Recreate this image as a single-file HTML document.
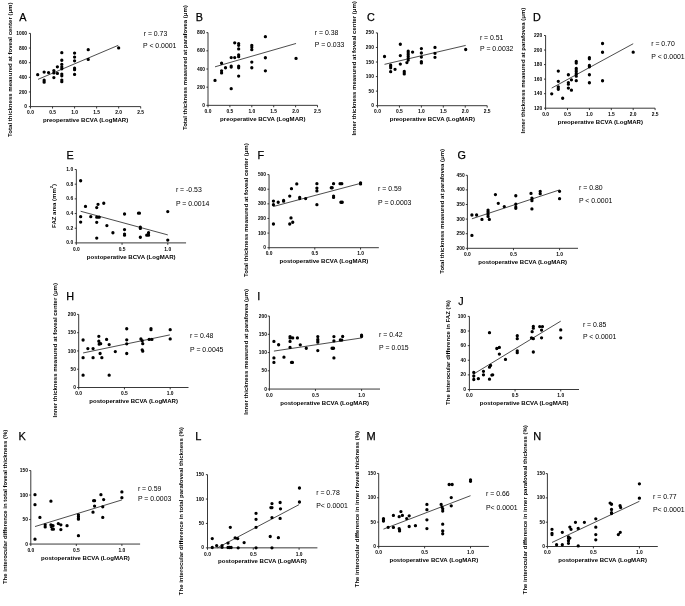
<!DOCTYPE html>
<html><head><meta charset="utf-8"><style>
html,body{margin:0;padding:0;background:#fff;}
svg{display:block;will-change:transform;}
text{font-family:"Liberation Sans",sans-serif;}
.tk{font-size:4.9px;font-weight:bold;fill:#000;}
.lb{font-size:6.0px;font-weight:bold;fill:#000;}
.yl{font-size:6.0px;font-weight:bold;fill:#000;}
.lt{fill:#000;stroke:#000;stroke-width:0.25px;}
.rp{font-size:6.9px;fill:#000;}
</style></head><body>
<svg width="685" height="606" viewBox="0 0 685 606">
<rect width="685" height="606" fill="#fff"/>
<path d="M30.50 33.40V106.60H140.70" fill="none" stroke="#222" stroke-width="0.9"/>
<path d="M28.90 106.60H30.50M28.90 91.96H30.50M28.90 77.32H30.50M28.90 62.68H30.50M28.90 48.04H30.50M28.90 33.40H30.50M30.50 106.60V108.50M52.54 106.60V108.50M74.58 106.60V108.50M96.62 106.60V108.50M118.66 106.60V108.50M140.70 106.60V108.50" fill="none" stroke="#222" stroke-width="0.9"/>
<text x="27.10" y="108.16" text-anchor="end" class="tk">0</text>
<text x="27.10" y="93.52" text-anchor="end" class="tk">200</text>
<text x="27.10" y="78.88" text-anchor="end" class="tk">400</text>
<text x="27.10" y="64.24" text-anchor="end" class="tk">600</text>
<text x="27.10" y="49.60" text-anchor="end" class="tk">800</text>
<text x="27.10" y="34.96" text-anchor="end" class="tk">1000</text>
<text x="30.50" y="114.26" text-anchor="middle" class="tk">0.0</text>
<text x="52.54" y="114.26" text-anchor="middle" class="tk">0.5</text>
<text x="74.58" y="114.26" text-anchor="middle" class="tk">1.0</text>
<text x="96.62" y="114.26" text-anchor="middle" class="tk">1.5</text>
<text x="118.66" y="114.26" text-anchor="middle" class="tk">2.0</text>
<text x="140.70" y="114.26" text-anchor="middle" class="tk">2.5</text>
<text x="42.93" y="122.20" textLength="85.35" lengthAdjust="spacingAndGlyphs" class="lb">preoperative BCVA (LogMAR)</text>
<text transform="translate(12.06,136.88) rotate(-90)" x="0" y="0" textLength="134.38" lengthAdjust="spacingAndGlyphs" class="yl">Total thickness measured at foveal center (μm)</text>
<text x="19.30" y="21.00" class="lt" style="font-size:10.8px">A</text>
<text x="143.70" y="36.30" class="rp">r = 0.73</text>
<text x="143.00" y="47.80" class="rp">P &lt; 0.0001</text>
<path d="M37.99 79.37L118.22 45.33" stroke="#111" stroke-width="0.75"/>
<path d="M36.04 74.68a1.65 1.65 0 1 0 3.3 0a1.65 1.65 0 1 0 -3.3 0M42.51 72.05a1.65 1.65 0 1 0 3.3 0a1.65 1.65 0 1 0 -3.3 0M42.51 80.25a1.65 1.65 0 1 0 3.3 0a1.65 1.65 0 1 0 -3.3 0M42.51 81.35a1.65 1.65 0 1 0 3.3 0a1.65 1.65 0 1 0 -3.3 0M42.51 82.22a1.65 1.65 0 1 0 3.3 0a1.65 1.65 0 1 0 -3.3 0M46.92 72.56a1.65 1.65 0 1 0 3.3 0a1.65 1.65 0 1 0 -3.3 0M52.21 70.59a1.65 1.65 0 1 0 3.3 0a1.65 1.65 0 1 0 -3.3 0M52.21 72.93a1.65 1.65 0 1 0 3.3 0a1.65 1.65 0 1 0 -3.3 0M52.21 77.61a1.65 1.65 0 1 0 3.3 0a1.65 1.65 0 1 0 -3.3 0M55.74 66.78a1.65 1.65 0 1 0 3.3 0a1.65 1.65 0 1 0 -3.3 0M55.74 73.44a1.65 1.65 0 1 0 3.3 0a1.65 1.65 0 1 0 -3.3 0M60.15 52.72a1.65 1.65 0 1 0 3.3 0a1.65 1.65 0 1 0 -3.3 0M60.15 60.26a1.65 1.65 0 1 0 3.3 0a1.65 1.65 0 1 0 -3.3 0M60.15 64.44a1.65 1.65 0 1 0 3.3 0a1.65 1.65 0 1 0 -3.3 0M60.15 67.07a1.65 1.65 0 1 0 3.3 0a1.65 1.65 0 1 0 -3.3 0M60.15 68.83a1.65 1.65 0 1 0 3.3 0a1.65 1.65 0 1 0 -3.3 0M60.15 74.10a1.65 1.65 0 1 0 3.3 0a1.65 1.65 0 1 0 -3.3 0M60.15 75.86a1.65 1.65 0 1 0 3.3 0a1.65 1.65 0 1 0 -3.3 0M60.15 80.10a1.65 1.65 0 1 0 3.3 0a1.65 1.65 0 1 0 -3.3 0M60.15 81.71a1.65 1.65 0 1 0 3.3 0a1.65 1.65 0 1 0 -3.3 0M72.93 53.09a1.65 1.65 0 1 0 3.3 0a1.65 1.65 0 1 0 -3.3 0M72.93 57.12a1.65 1.65 0 1 0 3.3 0a1.65 1.65 0 1 0 -3.3 0M72.93 60.78a1.65 1.65 0 1 0 3.3 0a1.65 1.65 0 1 0 -3.3 0M72.93 68.17a1.65 1.65 0 1 0 3.3 0a1.65 1.65 0 1 0 -3.3 0M72.93 69.71a1.65 1.65 0 1 0 3.3 0a1.65 1.65 0 1 0 -3.3 0M72.93 74.47a1.65 1.65 0 1 0 3.3 0a1.65 1.65 0 1 0 -3.3 0M86.59 49.72a1.65 1.65 0 1 0 3.3 0a1.65 1.65 0 1 0 -3.3 0M86.59 59.39a1.65 1.65 0 1 0 3.3 0a1.65 1.65 0 1 0 -3.3 0M117.01 47.97a1.65 1.65 0 1 0 3.3 0a1.65 1.65 0 1 0 -3.3 0" fill="#000"/>
<path d="M208.00 32.65V105.35H317.50" fill="none" stroke="#222" stroke-width="0.9"/>
<path d="M206.40 105.35H208.00M206.40 87.17H208.00M206.40 69.00H208.00M206.40 50.82H208.00M206.40 32.65H208.00M208.00 105.35V107.25M229.90 105.35V107.25M251.80 105.35V107.25M273.70 105.35V107.25M295.60 105.35V107.25M317.50 105.35V107.25" fill="none" stroke="#222" stroke-width="0.9"/>
<text x="205.10" y="106.91" text-anchor="end" class="tk">0</text>
<text x="205.10" y="88.74" text-anchor="end" class="tk">200</text>
<text x="205.10" y="70.56" text-anchor="end" class="tk">400</text>
<text x="205.10" y="52.39" text-anchor="end" class="tk">600</text>
<text x="205.10" y="34.21" text-anchor="end" class="tk">800</text>
<text x="208.00" y="113.01" text-anchor="middle" class="tk">0.0</text>
<text x="229.90" y="113.01" text-anchor="middle" class="tk">0.5</text>
<text x="251.80" y="113.01" text-anchor="middle" class="tk">1.0</text>
<text x="273.70" y="113.01" text-anchor="middle" class="tk">1.5</text>
<text x="295.60" y="113.01" text-anchor="middle" class="tk">2.0</text>
<text x="317.50" y="113.01" text-anchor="middle" class="tk">2.5</text>
<text x="220.08" y="120.95" textLength="85.35" lengthAdjust="spacingAndGlyphs" class="lb">preoperative BCVA (LogMAR)</text>
<text transform="translate(187.16,130.08) rotate(-90)" x="0" y="0" textLength="124.93" lengthAdjust="spacingAndGlyphs" class="yl">Total thickness measured at parafovea (μm)</text>
<text x="195.80" y="21.00" class="lt" style="font-size:10.8px">B</text>
<text x="314.80" y="34.90" class="rp">r = 0.38</text>
<text x="314.80" y="46.90" class="rp">P = 0.033</text>
<path d="M215.01 66.82L296.04 43.46" stroke="#111" stroke-width="0.75"/>
<path d="M213.36 80.45a1.65 1.65 0 1 0 3.3 0a1.65 1.65 0 1 0 -3.3 0M219.93 63.27a1.65 1.65 0 1 0 3.3 0a1.65 1.65 0 1 0 -3.3 0M219.93 70.82a1.65 1.65 0 1 0 3.3 0a1.65 1.65 0 1 0 -3.3 0M219.93 72.91a1.65 1.65 0 1 0 3.3 0a1.65 1.65 0 1 0 -3.3 0M223.87 67.73a1.65 1.65 0 1 0 3.3 0a1.65 1.65 0 1 0 -3.3 0M229.56 57.55a1.65 1.65 0 1 0 3.3 0a1.65 1.65 0 1 0 -3.3 0M229.56 66.27a1.65 1.65 0 1 0 3.3 0a1.65 1.65 0 1 0 -3.3 0M229.56 67.00a1.65 1.65 0 1 0 3.3 0a1.65 1.65 0 1 0 -3.3 0M229.56 88.72a1.65 1.65 0 1 0 3.3 0a1.65 1.65 0 1 0 -3.3 0M233.07 57.55a1.65 1.65 0 1 0 3.3 0a1.65 1.65 0 1 0 -3.3 0M233.07 42.83a1.65 1.65 0 1 0 3.3 0a1.65 1.65 0 1 0 -3.3 0M237.01 43.65a1.65 1.65 0 1 0 3.3 0a1.65 1.65 0 1 0 -3.3 0M237.01 45.28a1.65 1.65 0 1 0 3.3 0a1.65 1.65 0 1 0 -3.3 0M237.01 48.92a1.65 1.65 0 1 0 3.3 0a1.65 1.65 0 1 0 -3.3 0M237.01 54.91a1.65 1.65 0 1 0 3.3 0a1.65 1.65 0 1 0 -3.3 0M237.01 56.64a1.65 1.65 0 1 0 3.3 0a1.65 1.65 0 1 0 -3.3 0M237.01 66.27a1.65 1.65 0 1 0 3.3 0a1.65 1.65 0 1 0 -3.3 0M237.01 67.73a1.65 1.65 0 1 0 3.3 0a1.65 1.65 0 1 0 -3.3 0M237.01 76.09a1.65 1.65 0 1 0 3.3 0a1.65 1.65 0 1 0 -3.3 0M250.15 45.28a1.65 1.65 0 1 0 3.3 0a1.65 1.65 0 1 0 -3.3 0M250.15 47.01a1.65 1.65 0 1 0 3.3 0a1.65 1.65 0 1 0 -3.3 0M250.15 49.64a1.65 1.65 0 1 0 3.3 0a1.65 1.65 0 1 0 -3.3 0M250.15 62.09a1.65 1.65 0 1 0 3.3 0a1.65 1.65 0 1 0 -3.3 0M250.15 67.73a1.65 1.65 0 1 0 3.3 0a1.65 1.65 0 1 0 -3.3 0M263.73 36.65a1.65 1.65 0 1 0 3.3 0a1.65 1.65 0 1 0 -3.3 0M263.73 57.73a1.65 1.65 0 1 0 3.3 0a1.65 1.65 0 1 0 -3.3 0M263.73 70.82a1.65 1.65 0 1 0 3.3 0a1.65 1.65 0 1 0 -3.3 0M294.39 58.37a1.65 1.65 0 1 0 3.3 0a1.65 1.65 0 1 0 -3.3 0" fill="#000"/>
<path d="M377.50 32.90V105.70H487.20" fill="none" stroke="#222" stroke-width="0.9"/>
<path d="M375.90 105.70H377.50M375.90 91.14H377.50M375.90 76.58H377.50M375.90 62.02H377.50M375.90 47.46H377.50M375.90 32.90H377.50M377.50 105.70V107.60M399.44 105.70V107.60M421.38 105.70V107.60M443.32 105.70V107.60M465.26 105.70V107.60M487.20 105.70V107.60" fill="none" stroke="#222" stroke-width="0.9"/>
<text x="374.00" y="107.26" text-anchor="end" class="tk">0</text>
<text x="374.00" y="92.70" text-anchor="end" class="tk">50</text>
<text x="374.00" y="78.14" text-anchor="end" class="tk">100</text>
<text x="374.00" y="63.58" text-anchor="end" class="tk">150</text>
<text x="374.00" y="49.02" text-anchor="end" class="tk">200</text>
<text x="374.00" y="34.46" text-anchor="end" class="tk">250</text>
<text x="377.50" y="113.36" text-anchor="middle" class="tk">0.0</text>
<text x="399.44" y="113.36" text-anchor="middle" class="tk">0.5</text>
<text x="421.38" y="113.36" text-anchor="middle" class="tk">1.0</text>
<text x="443.32" y="113.36" text-anchor="middle" class="tk">1.5</text>
<text x="465.26" y="113.36" text-anchor="middle" class="tk">2.0</text>
<text x="487.20" y="113.36" text-anchor="middle" class="tk">2.5</text>
<text x="389.68" y="121.30" textLength="85.35" lengthAdjust="spacingAndGlyphs" class="lb">preoperative BCVA (LogMAR)</text>
<text transform="translate(356.16,135.59) rotate(-90)" x="0" y="0" textLength="134.39" lengthAdjust="spacingAndGlyphs" class="yl">Inner thickness measured at foveal center (μm)</text>
<text x="367.00" y="21.00" class="lt" style="font-size:10.8px">C</text>
<text x="479.90" y="39.60" class="rp">r = 0.51</text>
<text x="480.00" y="50.90" class="rp">P = 0.0032</text>
<path d="M384.52 64.35L465.70 45.42" stroke="#111" stroke-width="0.75"/>
<path d="M382.87 56.49a1.65 1.65 0 1 0 3.3 0a1.65 1.65 0 1 0 -3.3 0M389.01 65.22a1.65 1.65 0 1 0 3.3 0a1.65 1.65 0 1 0 -3.3 0M389.01 66.68a1.65 1.65 0 1 0 3.3 0a1.65 1.65 0 1 0 -3.3 0M389.01 67.84a1.65 1.65 0 1 0 3.3 0a1.65 1.65 0 1 0 -3.3 0M389.01 71.63a1.65 1.65 0 1 0 3.3 0a1.65 1.65 0 1 0 -3.3 0M393.40 69.30a1.65 1.65 0 1 0 3.3 0a1.65 1.65 0 1 0 -3.3 0M398.67 44.26a1.65 1.65 0 1 0 3.3 0a1.65 1.65 0 1 0 -3.3 0M398.67 55.61a1.65 1.65 0 1 0 3.3 0a1.65 1.65 0 1 0 -3.3 0M398.67 64.06a1.65 1.65 0 1 0 3.3 0a1.65 1.65 0 1 0 -3.3 0M402.62 71.34a1.65 1.65 0 1 0 3.3 0a1.65 1.65 0 1 0 -3.3 0M402.62 72.79a1.65 1.65 0 1 0 3.3 0a1.65 1.65 0 1 0 -3.3 0M402.62 73.96a1.65 1.65 0 1 0 3.3 0a1.65 1.65 0 1 0 -3.3 0M405.25 62.60a1.65 1.65 0 1 0 3.3 0a1.65 1.65 0 1 0 -3.3 0M406.57 51.25a1.65 1.65 0 1 0 3.3 0a1.65 1.65 0 1 0 -3.3 0M406.57 52.99a1.65 1.65 0 1 0 3.3 0a1.65 1.65 0 1 0 -3.3 0M406.57 54.74a1.65 1.65 0 1 0 3.3 0a1.65 1.65 0 1 0 -3.3 0M406.57 56.49a1.65 1.65 0 1 0 3.3 0a1.65 1.65 0 1 0 -3.3 0M406.57 58.23a1.65 1.65 0 1 0 3.3 0a1.65 1.65 0 1 0 -3.3 0M406.57 59.98a1.65 1.65 0 1 0 3.3 0a1.65 1.65 0 1 0 -3.3 0M410.95 52.12a1.65 1.65 0 1 0 3.3 0a1.65 1.65 0 1 0 -3.3 0M419.73 48.62a1.65 1.65 0 1 0 3.3 0a1.65 1.65 0 1 0 -3.3 0M419.73 52.99a1.65 1.65 0 1 0 3.3 0a1.65 1.65 0 1 0 -3.3 0M419.73 57.07a1.65 1.65 0 1 0 3.3 0a1.65 1.65 0 1 0 -3.3 0M419.73 61.73a1.65 1.65 0 1 0 3.3 0a1.65 1.65 0 1 0 -3.3 0M419.73 62.89a1.65 1.65 0 1 0 3.3 0a1.65 1.65 0 1 0 -3.3 0M433.33 47.46a1.65 1.65 0 1 0 3.3 0a1.65 1.65 0 1 0 -3.3 0M433.33 53.28a1.65 1.65 0 1 0 3.3 0a1.65 1.65 0 1 0 -3.3 0M433.33 57.36a1.65 1.65 0 1 0 3.3 0a1.65 1.65 0 1 0 -3.3 0M464.05 49.50a1.65 1.65 0 1 0 3.3 0a1.65 1.65 0 1 0 -3.3 0" fill="#000"/>
<path d="M545.60 35.50V108.20H655.10" fill="none" stroke="#222" stroke-width="0.9"/>
<path d="M544.00 108.20H545.60M544.00 93.66H545.60M544.00 79.12H545.60M544.00 64.58H545.60M544.00 50.04H545.60M544.00 35.50H545.60M545.60 108.20V110.10M567.50 108.20V110.10M589.40 108.20V110.10M611.30 108.20V110.10M633.20 108.20V110.10M655.10 108.20V110.10" fill="none" stroke="#222" stroke-width="0.9"/>
<text x="542.20" y="109.76" text-anchor="end" class="tk">120</text>
<text x="542.20" y="95.22" text-anchor="end" class="tk">140</text>
<text x="542.20" y="80.68" text-anchor="end" class="tk">160</text>
<text x="542.20" y="66.14" text-anchor="end" class="tk">180</text>
<text x="542.20" y="51.60" text-anchor="end" class="tk">200</text>
<text x="542.20" y="37.06" text-anchor="end" class="tk">220</text>
<text x="545.60" y="115.86" text-anchor="middle" class="tk">0.0</text>
<text x="567.50" y="115.86" text-anchor="middle" class="tk">0.5</text>
<text x="589.40" y="115.86" text-anchor="middle" class="tk">1.0</text>
<text x="611.30" y="115.86" text-anchor="middle" class="tk">1.5</text>
<text x="633.20" y="115.86" text-anchor="middle" class="tk">2.0</text>
<text x="655.10" y="115.86" text-anchor="middle" class="tk">2.5</text>
<text x="557.68" y="123.80" textLength="85.35" lengthAdjust="spacingAndGlyphs" class="lb">preoperative BCVA (LogMAR)</text>
<text transform="translate(525.16,133.42) rotate(-90)" x="0" y="0" textLength="125.72" lengthAdjust="spacingAndGlyphs" class="yl">Inner thickness measured at parafovea (μm)</text>
<text x="533.10" y="21.40" class="lt" style="font-size:10.8px">D</text>
<text x="651.20" y="45.80" class="rp">r = 0.70</text>
<text x="651.30" y="58.90" class="rp">P &lt; 0.0001</text>
<path d="M551.73 88.06L633.20 43.72" stroke="#111" stroke-width="0.75"/>
<path d="M550.08 93.81a1.65 1.65 0 1 0 3.3 0a1.65 1.65 0 1 0 -3.3 0M556.65 71.12a1.65 1.65 0 1 0 3.3 0a1.65 1.65 0 1 0 -3.3 0M556.65 81.30a1.65 1.65 0 1 0 3.3 0a1.65 1.65 0 1 0 -3.3 0M556.65 86.83a1.65 1.65 0 1 0 3.3 0a1.65 1.65 0 1 0 -3.3 0M556.65 88.06a1.65 1.65 0 1 0 3.3 0a1.65 1.65 0 1 0 -3.3 0M556.65 89.30a1.65 1.65 0 1 0 3.3 0a1.65 1.65 0 1 0 -3.3 0M561.03 98.24a1.65 1.65 0 1 0 3.3 0a1.65 1.65 0 1 0 -3.3 0M566.73 74.76a1.65 1.65 0 1 0 3.3 0a1.65 1.65 0 1 0 -3.3 0M566.73 82.75a1.65 1.65 0 1 0 3.3 0a1.65 1.65 0 1 0 -3.3 0M566.73 84.21a1.65 1.65 0 1 0 3.3 0a1.65 1.65 0 1 0 -3.3 0M566.73 88.06a1.65 1.65 0 1 0 3.3 0a1.65 1.65 0 1 0 -3.3 0M569.79 79.85a1.65 1.65 0 1 0 3.3 0a1.65 1.65 0 1 0 -3.3 0M569.79 90.17a1.65 1.65 0 1 0 3.3 0a1.65 1.65 0 1 0 -3.3 0M574.61 61.45a1.65 1.65 0 1 0 3.3 0a1.65 1.65 0 1 0 -3.3 0M574.61 62.98a1.65 1.65 0 1 0 3.3 0a1.65 1.65 0 1 0 -3.3 0M574.61 68.43a1.65 1.65 0 1 0 3.3 0a1.65 1.65 0 1 0 -3.3 0M574.61 70.03a1.65 1.65 0 1 0 3.3 0a1.65 1.65 0 1 0 -3.3 0M574.61 71.41a1.65 1.65 0 1 0 3.3 0a1.65 1.65 0 1 0 -3.3 0M574.61 73.16a1.65 1.65 0 1 0 3.3 0a1.65 1.65 0 1 0 -3.3 0M574.61 74.54a1.65 1.65 0 1 0 3.3 0a1.65 1.65 0 1 0 -3.3 0M574.61 76.14a1.65 1.65 0 1 0 3.3 0a1.65 1.65 0 1 0 -3.3 0M574.61 80.72a1.65 1.65 0 1 0 3.3 0a1.65 1.65 0 1 0 -3.3 0M587.75 57.75a1.65 1.65 0 1 0 3.3 0a1.65 1.65 0 1 0 -3.3 0M587.75 58.76a1.65 1.65 0 1 0 3.3 0a1.65 1.65 0 1 0 -3.3 0M587.75 65.31a1.65 1.65 0 1 0 3.3 0a1.65 1.65 0 1 0 -3.3 0M587.75 66.76a1.65 1.65 0 1 0 3.3 0a1.65 1.65 0 1 0 -3.3 0M587.75 74.76a1.65 1.65 0 1 0 3.3 0a1.65 1.65 0 1 0 -3.3 0M587.75 82.75a1.65 1.65 0 1 0 3.3 0a1.65 1.65 0 1 0 -3.3 0M600.89 43.50a1.65 1.65 0 1 0 3.3 0a1.65 1.65 0 1 0 -3.3 0M600.89 52.22a1.65 1.65 0 1 0 3.3 0a1.65 1.65 0 1 0 -3.3 0M600.89 80.72a1.65 1.65 0 1 0 3.3 0a1.65 1.65 0 1 0 -3.3 0M631.55 52.22a1.65 1.65 0 1 0 3.3 0a1.65 1.65 0 1 0 -3.3 0" fill="#000"/>
<path d="M76.35 169.50V242.90H186.05" fill="none" stroke="#222" stroke-width="0.9"/>
<path d="M74.75 242.90H76.35M74.75 228.22H76.35M74.75 213.54H76.35M74.75 198.86H76.35M74.75 184.18H76.35M74.75 169.50H76.35M76.35 242.90V244.80M122.06 242.90V244.80M167.77 242.90V244.80" fill="none" stroke="#222" stroke-width="0.9"/>
<text x="73.15" y="244.46" text-anchor="end" class="tk">0.0</text>
<text x="73.15" y="229.78" text-anchor="end" class="tk">0.2</text>
<text x="73.15" y="215.10" text-anchor="end" class="tk">0.4</text>
<text x="73.15" y="200.42" text-anchor="end" class="tk">0.6</text>
<text x="73.15" y="185.74" text-anchor="end" class="tk">0.8</text>
<text x="73.15" y="171.06" text-anchor="end" class="tk">1.0</text>
<text x="76.35" y="250.56" text-anchor="middle" class="tk">0.0</text>
<text x="122.06" y="250.56" text-anchor="middle" class="tk">0.5</text>
<text x="167.77" y="250.56" text-anchor="middle" class="tk">1.0</text>
<text x="86.84" y="258.50" textLength="88.72" lengthAdjust="spacingAndGlyphs" class="lb">postoperative BCVA (LogMAR)</text>
<text transform="translate(55.56,227.90) rotate(-90)" x="0" y="0" textLength="43.90" lengthAdjust="spacingAndGlyphs" class="yl">FAZ area (mm<tspan dy="-2.3" font-size="4">2</tspan><tspan dy="2.3">)</tspan></text>
<text x="66.40" y="158.90" class="lt" style="font-size:10.8px">E</text>
<text x="175.90" y="192.20" class="rp">r = -0.53</text>
<text x="175.90" y="205.90" class="rp">P = 0.0014</text>
<path d="M80.65 211.26L167.77 234.90" stroke="#111" stroke-width="0.75"/>
<path d="M79.00 180.73a1.65 1.65 0 1 0 3.3 0a1.65 1.65 0 1 0 -3.3 0M79.00 216.70a1.65 1.65 0 1 0 3.3 0a1.65 1.65 0 1 0 -3.3 0M79.00 222.05a1.65 1.65 0 1 0 3.3 0a1.65 1.65 0 1 0 -3.3 0M83.84 206.42a1.65 1.65 0 1 0 3.3 0a1.65 1.65 0 1 0 -3.3 0M89.14 216.70a1.65 1.65 0 1 0 3.3 0a1.65 1.65 0 1 0 -3.3 0M95.09 207.59a1.65 1.65 0 1 0 3.3 0a1.65 1.65 0 1 0 -3.3 0M95.09 217.21a1.65 1.65 0 1 0 3.3 0a1.65 1.65 0 1 0 -3.3 0M95.09 222.35a1.65 1.65 0 1 0 3.3 0a1.65 1.65 0 1 0 -3.3 0M95.09 238.06a1.65 1.65 0 1 0 3.3 0a1.65 1.65 0 1 0 -3.3 0M96.37 204.37a1.65 1.65 0 1 0 3.3 0a1.65 1.65 0 1 0 -3.3 0M97.55 217.21a1.65 1.65 0 1 0 3.3 0a1.65 1.65 0 1 0 -3.3 0M102.12 203.26a1.65 1.65 0 1 0 3.3 0a1.65 1.65 0 1 0 -3.3 0M105.23 225.58a1.65 1.65 0 1 0 3.3 0a1.65 1.65 0 1 0 -3.3 0M111.27 232.77a1.65 1.65 0 1 0 3.3 0a1.65 1.65 0 1 0 -3.3 0M122.88 213.98a1.65 1.65 0 1 0 3.3 0a1.65 1.65 0 1 0 -3.3 0M122.88 229.54a1.65 1.65 0 1 0 3.3 0a1.65 1.65 0 1 0 -3.3 0M122.88 234.09a1.65 1.65 0 1 0 3.3 0a1.65 1.65 0 1 0 -3.3 0M122.88 235.19a1.65 1.65 0 1 0 3.3 0a1.65 1.65 0 1 0 -3.3 0M136.86 213.17a1.65 1.65 0 1 0 3.3 0a1.65 1.65 0 1 0 -3.3 0M137.78 213.17a1.65 1.65 0 1 0 3.3 0a1.65 1.65 0 1 0 -3.3 0M138.69 227.19a1.65 1.65 0 1 0 3.3 0a1.65 1.65 0 1 0 -3.3 0M138.69 228.44a1.65 1.65 0 1 0 3.3 0a1.65 1.65 0 1 0 -3.3 0M138.69 237.25a1.65 1.65 0 1 0 3.3 0a1.65 1.65 0 1 0 -3.3 0M145.09 235.19a1.65 1.65 0 1 0 3.3 0a1.65 1.65 0 1 0 -3.3 0M146.92 235.19a1.65 1.65 0 1 0 3.3 0a1.65 1.65 0 1 0 -3.3 0M146.92 232.77a1.65 1.65 0 1 0 3.3 0a1.65 1.65 0 1 0 -3.3 0M166.12 211.56a1.65 1.65 0 1 0 3.3 0a1.65 1.65 0 1 0 -3.3 0M166.12 240.04a1.65 1.65 0 1 0 3.3 0a1.65 1.65 0 1 0 -3.3 0" fill="#000"/>
<path d="M269.05 174.60V247.70H378.85" fill="none" stroke="#222" stroke-width="0.9"/>
<path d="M267.45 247.70H269.05M267.45 233.08H269.05M267.45 218.46H269.05M267.45 203.84H269.05M267.45 189.22H269.05M267.45 174.60H269.05M269.05 247.70V249.60M314.80 247.70V249.60M360.55 247.70V249.60" fill="none" stroke="#222" stroke-width="0.9"/>
<text x="266.05" y="249.26" text-anchor="end" class="tk">0</text>
<text x="266.05" y="234.64" text-anchor="end" class="tk">100</text>
<text x="266.05" y="220.02" text-anchor="end" class="tk">200</text>
<text x="266.05" y="205.40" text-anchor="end" class="tk">300</text>
<text x="266.05" y="190.78" text-anchor="end" class="tk">400</text>
<text x="266.05" y="176.16" text-anchor="end" class="tk">500</text>
<text x="269.05" y="255.36" text-anchor="middle" class="tk">0.0</text>
<text x="314.80" y="255.36" text-anchor="middle" class="tk">0.5</text>
<text x="360.55" y="255.36" text-anchor="middle" class="tk">1.0</text>
<text x="279.59" y="263.30" textLength="88.72" lengthAdjust="spacingAndGlyphs" class="lb">postoperative BCVA (LogMAR)</text>
<text transform="translate(248.46,276.90) rotate(-90)" x="0" y="0" textLength="133.60" lengthAdjust="spacingAndGlyphs" class="yl">Total thickness measured at foveal center (μm)</text>
<text x="257.40" y="158.90" class="lt" style="font-size:10.8px">F</text>
<text x="378.00" y="190.70" class="rp">r = 0.59</text>
<text x="378.00" y="204.90" class="rp">P = 0.0003</text>
<path d="M273.44 206.47L360.55 183.37" stroke="#111" stroke-width="0.75"/>
<path d="M271.79 201.06a1.65 1.65 0 1 0 3.3 0a1.65 1.65 0 1 0 -3.3 0M271.79 204.72a1.65 1.65 0 1 0 3.3 0a1.65 1.65 0 1 0 -3.3 0M271.79 224.02a1.65 1.65 0 1 0 3.3 0a1.65 1.65 0 1 0 -3.3 0M276.55 202.23a1.65 1.65 0 1 0 3.3 0a1.65 1.65 0 1 0 -3.3 0M281.95 200.48a1.65 1.65 0 1 0 3.3 0a1.65 1.65 0 1 0 -3.3 0M281.95 201.21a1.65 1.65 0 1 0 3.3 0a1.65 1.65 0 1 0 -3.3 0M288.08 196.09a1.65 1.65 0 1 0 3.3 0a1.65 1.65 0 1 0 -3.3 0M288.08 224.02a1.65 1.65 0 1 0 3.3 0a1.65 1.65 0 1 0 -3.3 0M289.36 217.88a1.65 1.65 0 1 0 3.3 0a1.65 1.65 0 1 0 -3.3 0M289.82 188.64a1.65 1.65 0 1 0 3.3 0a1.65 1.65 0 1 0 -3.3 0M291.10 222.26a1.65 1.65 0 1 0 3.3 0a1.65 1.65 0 1 0 -3.3 0M295.12 183.96a1.65 1.65 0 1 0 3.3 0a1.65 1.65 0 1 0 -3.3 0M298.05 197.41a1.65 1.65 0 1 0 3.3 0a1.65 1.65 0 1 0 -3.3 0M298.05 198.58a1.65 1.65 0 1 0 3.3 0a1.65 1.65 0 1 0 -3.3 0M304.00 198.58a1.65 1.65 0 1 0 3.3 0a1.65 1.65 0 1 0 -3.3 0M315.25 183.66a1.65 1.65 0 1 0 3.3 0a1.65 1.65 0 1 0 -3.3 0M315.25 188.05a1.65 1.65 0 1 0 3.3 0a1.65 1.65 0 1 0 -3.3 0M315.25 190.97a1.65 1.65 0 1 0 3.3 0a1.65 1.65 0 1 0 -3.3 0M315.25 204.72a1.65 1.65 0 1 0 3.3 0a1.65 1.65 0 1 0 -3.3 0M329.62 187.76a1.65 1.65 0 1 0 3.3 0a1.65 1.65 0 1 0 -3.3 0M330.54 187.76a1.65 1.65 0 1 0 3.3 0a1.65 1.65 0 1 0 -3.3 0M331.91 183.66a1.65 1.65 0 1 0 3.3 0a1.65 1.65 0 1 0 -3.3 0M331.91 196.09a1.65 1.65 0 1 0 3.3 0a1.65 1.65 0 1 0 -3.3 0M331.91 197.41a1.65 1.65 0 1 0 3.3 0a1.65 1.65 0 1 0 -3.3 0M338.40 183.66a1.65 1.65 0 1 0 3.3 0a1.65 1.65 0 1 0 -3.3 0M340.14 183.66a1.65 1.65 0 1 0 3.3 0a1.65 1.65 0 1 0 -3.3 0M339.23 202.23a1.65 1.65 0 1 0 3.3 0a1.65 1.65 0 1 0 -3.3 0M340.60 202.23a1.65 1.65 0 1 0 3.3 0a1.65 1.65 0 1 0 -3.3 0M358.90 182.79a1.65 1.65 0 1 0 3.3 0a1.65 1.65 0 1 0 -3.3 0M358.90 183.96a1.65 1.65 0 1 0 3.3 0a1.65 1.65 0 1 0 -3.3 0" fill="#000"/>
<path d="M467.40 175.30V248.30H578.00" fill="none" stroke="#222" stroke-width="0.9"/>
<path d="M465.80 248.30H467.40M465.80 233.70H467.40M465.80 219.10H467.40M465.80 204.50H467.40M465.80 189.90H467.40M465.80 175.30H467.40M467.40 248.30V250.20M513.48 248.30V250.20M559.57 248.30V250.20" fill="none" stroke="#222" stroke-width="0.9"/>
<text x="464.70" y="249.86" text-anchor="end" class="tk">200</text>
<text x="464.70" y="235.26" text-anchor="end" class="tk">250</text>
<text x="464.70" y="220.66" text-anchor="end" class="tk">300</text>
<text x="464.70" y="206.06" text-anchor="end" class="tk">350</text>
<text x="464.70" y="191.46" text-anchor="end" class="tk">400</text>
<text x="464.70" y="176.86" text-anchor="end" class="tk">450</text>
<text x="467.40" y="255.96" text-anchor="middle" class="tk">0.0</text>
<text x="513.48" y="255.96" text-anchor="middle" class="tk">0.5</text>
<text x="559.57" y="255.96" text-anchor="middle" class="tk">1.0</text>
<text x="478.34" y="263.90" textLength="88.72" lengthAdjust="spacingAndGlyphs" class="lb">postoperative BCVA (LogMAR)</text>
<text transform="translate(443.76,273.83) rotate(-90)" x="0" y="0" textLength="124.93" lengthAdjust="spacingAndGlyphs" class="yl">Total thickness measured at parafovea (μm)</text>
<text x="457.60" y="158.90" class="lt" style="font-size:10.8px">G</text>
<text x="579.10" y="190.00" class="rp">r = 0.80</text>
<text x="578.90" y="202.60" class="rp">P &lt; 0.0001</text>
<path d="M471.92 218.81L559.57 189.90" stroke="#111" stroke-width="0.75"/>
<path d="M470.27 215.01a1.65 1.65 0 1 0 3.3 0a1.65 1.65 0 1 0 -3.3 0M470.27 235.45a1.65 1.65 0 1 0 3.3 0a1.65 1.65 0 1 0 -3.3 0M474.97 215.01a1.65 1.65 0 1 0 3.3 0a1.65 1.65 0 1 0 -3.3 0M480.31 219.39a1.65 1.65 0 1 0 3.3 0a1.65 1.65 0 1 0 -3.3 0M486.40 210.05a1.65 1.65 0 1 0 3.3 0a1.65 1.65 0 1 0 -3.3 0M486.40 211.51a1.65 1.65 0 1 0 3.3 0a1.65 1.65 0 1 0 -3.3 0M486.40 212.97a1.65 1.65 0 1 0 3.3 0a1.65 1.65 0 1 0 -3.3 0M486.40 214.72a1.65 1.65 0 1 0 3.3 0a1.65 1.65 0 1 0 -3.3 0M486.40 216.47a1.65 1.65 0 1 0 3.3 0a1.65 1.65 0 1 0 -3.3 0M487.69 219.39a1.65 1.65 0 1 0 3.3 0a1.65 1.65 0 1 0 -3.3 0M493.77 194.57a1.65 1.65 0 1 0 3.3 0a1.65 1.65 0 1 0 -3.3 0M496.63 203.33a1.65 1.65 0 1 0 3.3 0a1.65 1.65 0 1 0 -3.3 0M502.62 206.54a1.65 1.65 0 1 0 3.3 0a1.65 1.65 0 1 0 -3.3 0M514.14 195.74a1.65 1.65 0 1 0 3.3 0a1.65 1.65 0 1 0 -3.3 0M514.14 204.21a1.65 1.65 0 1 0 3.3 0a1.65 1.65 0 1 0 -3.3 0M514.14 207.13a1.65 1.65 0 1 0 3.3 0a1.65 1.65 0 1 0 -3.3 0M514.14 208.30a1.65 1.65 0 1 0 3.3 0a1.65 1.65 0 1 0 -3.3 0M529.35 193.40a1.65 1.65 0 1 0 3.3 0a1.65 1.65 0 1 0 -3.3 0M530.27 198.08a1.65 1.65 0 1 0 3.3 0a1.65 1.65 0 1 0 -3.3 0M530.27 199.54a1.65 1.65 0 1 0 3.3 0a1.65 1.65 0 1 0 -3.3 0M530.27 200.70a1.65 1.65 0 1 0 3.3 0a1.65 1.65 0 1 0 -3.3 0M530.27 208.88a1.65 1.65 0 1 0 3.3 0a1.65 1.65 0 1 0 -3.3 0M538.56 191.36a1.65 1.65 0 1 0 3.3 0a1.65 1.65 0 1 0 -3.3 0M538.56 193.70a1.65 1.65 0 1 0 3.3 0a1.65 1.65 0 1 0 -3.3 0M557.92 191.36a1.65 1.65 0 1 0 3.3 0a1.65 1.65 0 1 0 -3.3 0M557.92 198.66a1.65 1.65 0 1 0 3.3 0a1.65 1.65 0 1 0 -3.3 0" fill="#000"/>
<path d="M78.70 314.40V387.50H188.50" fill="none" stroke="#222" stroke-width="0.9"/>
<path d="M77.10 387.50H78.70M77.10 369.23H78.70M77.10 350.95H78.70M77.10 332.68H78.70M77.10 314.40H78.70M78.70 387.50V389.40M124.45 387.50V389.40M170.20 387.50V389.40" fill="none" stroke="#222" stroke-width="0.9"/>
<text x="76.00" y="389.06" text-anchor="end" class="tk">0</text>
<text x="76.00" y="370.79" text-anchor="end" class="tk">50</text>
<text x="76.00" y="352.51" text-anchor="end" class="tk">100</text>
<text x="76.00" y="334.24" text-anchor="end" class="tk">150</text>
<text x="76.00" y="315.96" text-anchor="end" class="tk">200</text>
<text x="78.70" y="395.16" text-anchor="middle" class="tk">0.0</text>
<text x="124.45" y="395.16" text-anchor="middle" class="tk">0.5</text>
<text x="170.20" y="395.16" text-anchor="middle" class="tk">1.0</text>
<text x="89.24" y="403.10" textLength="88.72" lengthAdjust="spacingAndGlyphs" class="lb">postoperative BCVA (LogMAR)</text>
<text transform="translate(56.66,417.49) rotate(-90)" x="0" y="0" textLength="134.39" lengthAdjust="spacingAndGlyphs" class="yl">Inner thickness measured at foveal center (μm)</text>
<text x="66.20" y="299.70" class="lt" style="font-size:10.8px">H</text>
<text x="189.90" y="338.00" class="rp">r = 0.48</text>
<text x="190.00" y="351.60" class="rp">P = 0.0045</text>
<path d="M83.09 352.96L169.83 334.90" stroke="#111" stroke-width="0.75"/>
<path d="M81.44 339.99a1.65 1.65 0 1 0 3.3 0a1.65 1.65 0 1 0 -3.3 0M81.44 357.71a1.65 1.65 0 1 0 3.3 0a1.65 1.65 0 1 0 -3.3 0M81.44 375.22a1.65 1.65 0 1 0 3.3 0a1.65 1.65 0 1 0 -3.3 0M86.20 348.57a1.65 1.65 0 1 0 3.3 0a1.65 1.65 0 1 0 -3.3 0M91.42 348.57a1.65 1.65 0 1 0 3.3 0a1.65 1.65 0 1 0 -3.3 0M91.42 357.71a1.65 1.65 0 1 0 3.3 0a1.65 1.65 0 1 0 -3.3 0M97.18 336.33a1.65 1.65 0 1 0 3.3 0a1.65 1.65 0 1 0 -3.3 0M97.18 341.23a1.65 1.65 0 1 0 3.3 0a1.65 1.65 0 1 0 -3.3 0M97.55 344.19a1.65 1.65 0 1 0 3.3 0a1.65 1.65 0 1 0 -3.3 0M99.01 343.64a1.65 1.65 0 1 0 3.3 0a1.65 1.65 0 1 0 -3.3 0M98.46 353.51a1.65 1.65 0 1 0 3.3 0a1.65 1.65 0 1 0 -3.3 0M100.20 357.71a1.65 1.65 0 1 0 3.3 0a1.65 1.65 0 1 0 -3.3 0M104.96 339.47a1.65 1.65 0 1 0 3.3 0a1.65 1.65 0 1 0 -3.3 0M107.52 344.55a1.65 1.65 0 1 0 3.3 0a1.65 1.65 0 1 0 -3.3 0M107.52 375.22a1.65 1.65 0 1 0 3.3 0a1.65 1.65 0 1 0 -3.3 0M113.65 351.57a1.65 1.65 0 1 0 3.3 0a1.65 1.65 0 1 0 -3.3 0M125.09 328.76a1.65 1.65 0 1 0 3.3 0a1.65 1.65 0 1 0 -3.3 0M125.09 339.80a1.65 1.65 0 1 0 3.3 0a1.65 1.65 0 1 0 -3.3 0M125.09 343.86a1.65 1.65 0 1 0 3.3 0a1.65 1.65 0 1 0 -3.3 0M125.09 353.51a1.65 1.65 0 1 0 3.3 0a1.65 1.65 0 1 0 -3.3 0M139.27 338.93a1.65 1.65 0 1 0 3.3 0a1.65 1.65 0 1 0 -3.3 0M140.55 340.72a1.65 1.65 0 1 0 3.3 0a1.65 1.65 0 1 0 -3.3 0M141.10 343.64a1.65 1.65 0 1 0 3.3 0a1.65 1.65 0 1 0 -3.3 0M140.55 349.85a1.65 1.65 0 1 0 3.3 0a1.65 1.65 0 1 0 -3.3 0M141.10 351.21a1.65 1.65 0 1 0 3.3 0a1.65 1.65 0 1 0 -3.3 0M147.50 339.47a1.65 1.65 0 1 0 3.3 0a1.65 1.65 0 1 0 -3.3 0M149.34 328.76a1.65 1.65 0 1 0 3.3 0a1.65 1.65 0 1 0 -3.3 0M149.34 329.64a1.65 1.65 0 1 0 3.3 0a1.65 1.65 0 1 0 -3.3 0M150.25 339.47a1.65 1.65 0 1 0 3.3 0a1.65 1.65 0 1 0 -3.3 0M168.55 329.64a1.65 1.65 0 1 0 3.3 0a1.65 1.65 0 1 0 -3.3 0M168.55 338.93a1.65 1.65 0 1 0 3.3 0a1.65 1.65 0 1 0 -3.3 0" fill="#000"/>
<path d="M269.40 316.05V389.05H380.00" fill="none" stroke="#222" stroke-width="0.9"/>
<path d="M267.80 389.05H269.40M267.80 370.80H269.40M267.80 352.55H269.40M267.80 334.30H269.40M267.80 316.05H269.40M269.40 389.05V390.95M315.48 389.05V390.95M361.57 389.05V390.95" fill="none" stroke="#222" stroke-width="0.9"/>
<text x="267.00" y="390.61" text-anchor="end" class="tk">0</text>
<text x="267.00" y="372.36" text-anchor="end" class="tk">50</text>
<text x="267.00" y="354.11" text-anchor="end" class="tk">100</text>
<text x="267.00" y="335.86" text-anchor="end" class="tk">150</text>
<text x="267.00" y="317.61" text-anchor="end" class="tk">200</text>
<text x="269.40" y="396.71" text-anchor="middle" class="tk">0.0</text>
<text x="315.48" y="396.71" text-anchor="middle" class="tk">0.5</text>
<text x="361.57" y="396.71" text-anchor="middle" class="tk">1.0</text>
<text x="280.34" y="404.65" textLength="88.72" lengthAdjust="spacingAndGlyphs" class="lb">postoperative BCVA (LogMAR)</text>
<text transform="translate(248.06,414.72) rotate(-90)" x="0" y="0" textLength="125.72" lengthAdjust="spacingAndGlyphs" class="yl">Inner thickness measured at parafovea (μm)</text>
<text x="257.30" y="299.90" class="lt" style="font-size:10.8px">I</text>
<text x="379.10" y="336.80" class="rp">r = 0.42</text>
<text x="379.10" y="349.50" class="rp">P = 0.015</text>
<path d="M273.92 351.09L361.57 337.95" stroke="#111" stroke-width="0.75"/>
<path d="M272.27 341.42a1.65 1.65 0 1 0 3.3 0a1.65 1.65 0 1 0 -3.3 0M272.27 357.88a1.65 1.65 0 1 0 3.3 0a1.65 1.65 0 1 0 -3.3 0M272.27 362.44a1.65 1.65 0 1 0 3.3 0a1.65 1.65 0 1 0 -3.3 0M276.97 344.78a1.65 1.65 0 1 0 3.3 0a1.65 1.65 0 1 0 -3.3 0M282.31 357.19a1.65 1.65 0 1 0 3.3 0a1.65 1.65 0 1 0 -3.3 0M288.40 336.53a1.65 1.65 0 1 0 3.3 0a1.65 1.65 0 1 0 -3.3 0M288.40 337.95a1.65 1.65 0 1 0 3.3 0a1.65 1.65 0 1 0 -3.3 0M288.40 341.42a1.65 1.65 0 1 0 3.3 0a1.65 1.65 0 1 0 -3.3 0M288.40 347.40a1.65 1.65 0 1 0 3.3 0a1.65 1.65 0 1 0 -3.3 0M289.87 362.44a1.65 1.65 0 1 0 3.3 0a1.65 1.65 0 1 0 -3.3 0M290.79 362.44a1.65 1.65 0 1 0 3.3 0a1.65 1.65 0 1 0 -3.3 0M291.07 337.95a1.65 1.65 0 1 0 3.3 0a1.65 1.65 0 1 0 -3.3 0M295.77 337.95a1.65 1.65 0 1 0 3.3 0a1.65 1.65 0 1 0 -3.3 0M298.63 344.78a1.65 1.65 0 1 0 3.3 0a1.65 1.65 0 1 0 -3.3 0M304.62 348.24a1.65 1.65 0 1 0 3.3 0a1.65 1.65 0 1 0 -3.3 0M316.14 336.53a1.65 1.65 0 1 0 3.3 0a1.65 1.65 0 1 0 -3.3 0M316.14 339.52a1.65 1.65 0 1 0 3.3 0a1.65 1.65 0 1 0 -3.3 0M316.14 340.91a1.65 1.65 0 1 0 3.3 0a1.65 1.65 0 1 0 -3.3 0M316.14 342.15a1.65 1.65 0 1 0 3.3 0a1.65 1.65 0 1 0 -3.3 0M316.14 350.54a1.65 1.65 0 1 0 3.3 0a1.65 1.65 0 1 0 -3.3 0M330.42 348.24a1.65 1.65 0 1 0 3.3 0a1.65 1.65 0 1 0 -3.3 0M331.90 348.24a1.65 1.65 0 1 0 3.3 0a1.65 1.65 0 1 0 -3.3 0M332.27 336.53a1.65 1.65 0 1 0 3.3 0a1.65 1.65 0 1 0 -3.3 0M332.27 340.91a1.65 1.65 0 1 0 3.3 0a1.65 1.65 0 1 0 -3.3 0M332.27 357.88a1.65 1.65 0 1 0 3.3 0a1.65 1.65 0 1 0 -3.3 0M338.72 340.03a1.65 1.65 0 1 0 3.3 0a1.65 1.65 0 1 0 -3.3 0M340.10 340.03a1.65 1.65 0 1 0 3.3 0a1.65 1.65 0 1 0 -3.3 0M341.02 336.53a1.65 1.65 0 1 0 3.3 0a1.65 1.65 0 1 0 -3.3 0M359.92 335.14a1.65 1.65 0 1 0 3.3 0a1.65 1.65 0 1 0 -3.3 0M359.92 336.53a1.65 1.65 0 1 0 3.3 0a1.65 1.65 0 1 0 -3.3 0" fill="#000"/>
<path d="M469.40 316.40V389.50H579.00" fill="none" stroke="#222" stroke-width="0.9"/>
<path d="M467.80 389.50H469.40M467.80 374.88H469.40M467.80 360.26H469.40M467.80 345.64H469.40M467.80 331.02H469.40M467.80 316.40H469.40M469.40 389.50V391.40M515.07 389.50V391.40M560.73 389.50V391.40" fill="none" stroke="#222" stroke-width="0.9"/>
<text x="466.00" y="391.06" text-anchor="end" class="tk">0</text>
<text x="466.00" y="376.44" text-anchor="end" class="tk">20</text>
<text x="466.00" y="361.82" text-anchor="end" class="tk">40</text>
<text x="466.00" y="347.20" text-anchor="end" class="tk">60</text>
<text x="466.00" y="332.58" text-anchor="end" class="tk">80</text>
<text x="466.00" y="317.96" text-anchor="end" class="tk">100</text>
<text x="469.40" y="397.16" text-anchor="middle" class="tk">0.0</text>
<text x="515.07" y="397.16" text-anchor="middle" class="tk">0.5</text>
<text x="560.73" y="397.16" text-anchor="middle" class="tk">1.0</text>
<text x="479.84" y="405.10" textLength="88.72" lengthAdjust="spacingAndGlyphs" class="lb">postoperative BCVA (LogMAR)</text>
<text transform="translate(449.96,404.88) rotate(-90)" x="0" y="0" textLength="104.68" lengthAdjust="spacingAndGlyphs" class="yl">The interocular difference in FAZ (%)</text>
<text x="458.30" y="304.60" class="lt" style="font-size:10.8px">J</text>
<text x="582.90" y="326.90" class="rp">r = 0.85</text>
<text x="582.90" y="339.20" class="rp">P &lt; 0.0001</text>
<path d="M473.78 373.93L560.73 321.15" stroke="#111" stroke-width="0.75"/>
<path d="M472.13 372.47a1.65 1.65 0 1 0 3.3 0a1.65 1.65 0 1 0 -3.3 0M472.13 375.98a1.65 1.65 0 1 0 3.3 0a1.65 1.65 0 1 0 -3.3 0M472.13 379.49a1.65 1.65 0 1 0 3.3 0a1.65 1.65 0 1 0 -3.3 0M476.70 378.61a1.65 1.65 0 1 0 3.3 0a1.65 1.65 0 1 0 -3.3 0M481.82 371.30a1.65 1.65 0 1 0 3.3 0a1.65 1.65 0 1 0 -3.3 0M481.82 374.81a1.65 1.65 0 1 0 3.3 0a1.65 1.65 0 1 0 -3.3 0M487.84 332.70a1.65 1.65 0 1 0 3.3 0a1.65 1.65 0 1 0 -3.3 0M487.84 367.20a1.65 1.65 0 1 0 3.3 0a1.65 1.65 0 1 0 -3.3 0M487.84 379.19a1.65 1.65 0 1 0 3.3 0a1.65 1.65 0 1 0 -3.3 0M488.94 365.45a1.65 1.65 0 1 0 3.3 0a1.65 1.65 0 1 0 -3.3 0M490.22 375.10a1.65 1.65 0 1 0 3.3 0a1.65 1.65 0 1 0 -3.3 0M491.04 374.81a1.65 1.65 0 1 0 3.3 0a1.65 1.65 0 1 0 -3.3 0M495.15 348.49a1.65 1.65 0 1 0 3.3 0a1.65 1.65 0 1 0 -3.3 0M497.71 347.39a1.65 1.65 0 1 0 3.3 0a1.65 1.65 0 1 0 -3.3 0M497.71 354.12a1.65 1.65 0 1 0 3.3 0a1.65 1.65 0 1 0 -3.3 0M503.83 359.38a1.65 1.65 0 1 0 3.3 0a1.65 1.65 0 1 0 -3.3 0M515.61 335.70a1.65 1.65 0 1 0 3.3 0a1.65 1.65 0 1 0 -3.3 0M515.61 338.70a1.65 1.65 0 1 0 3.3 0a1.65 1.65 0 1 0 -3.3 0M515.61 350.90a1.65 1.65 0 1 0 3.3 0a1.65 1.65 0 1 0 -3.3 0M515.61 352.66a1.65 1.65 0 1 0 3.3 0a1.65 1.65 0 1 0 -3.3 0M530.50 331.68a1.65 1.65 0 1 0 3.3 0a1.65 1.65 0 1 0 -3.3 0M529.86 337.82a1.65 1.65 0 1 0 3.3 0a1.65 1.65 0 1 0 -3.3 0M531.68 326.41a1.65 1.65 0 1 0 3.3 0a1.65 1.65 0 1 0 -3.3 0M531.68 328.17a1.65 1.65 0 1 0 3.3 0a1.65 1.65 0 1 0 -3.3 0M531.68 338.70a1.65 1.65 0 1 0 3.3 0a1.65 1.65 0 1 0 -3.3 0M531.68 352.00a1.65 1.65 0 1 0 3.3 0a1.65 1.65 0 1 0 -3.3 0M538.08 326.56a1.65 1.65 0 1 0 3.3 0a1.65 1.65 0 1 0 -3.3 0M540.82 326.56a1.65 1.65 0 1 0 3.3 0a1.65 1.65 0 1 0 -3.3 0M539.90 330.07a1.65 1.65 0 1 0 3.3 0a1.65 1.65 0 1 0 -3.3 0M539.90 337.82a1.65 1.65 0 1 0 3.3 0a1.65 1.65 0 1 0 -3.3 0M559.08 329.92a1.65 1.65 0 1 0 3.3 0a1.65 1.65 0 1 0 -3.3 0M559.08 337.82a1.65 1.65 0 1 0 3.3 0a1.65 1.65 0 1 0 -3.3 0" fill="#000"/>
<path d="M30.80 470.55V544.05H140.10" fill="none" stroke="#222" stroke-width="0.9"/>
<path d="M29.20 544.05H30.80M29.20 519.55H30.80M29.20 495.05H30.80M29.20 470.55H30.80M30.80 544.05V545.95M76.34 544.05V545.95M121.88 544.05V545.95" fill="none" stroke="#222" stroke-width="0.9"/>
<text x="28.00" y="545.61" text-anchor="end" class="tk">0</text>
<text x="28.00" y="521.11" text-anchor="end" class="tk">50</text>
<text x="28.00" y="496.61" text-anchor="end" class="tk">100</text>
<text x="28.00" y="472.11" text-anchor="end" class="tk">150</text>
<text x="30.80" y="551.71" text-anchor="middle" class="tk">0.0</text>
<text x="76.34" y="551.71" text-anchor="middle" class="tk">0.5</text>
<text x="121.88" y="551.71" text-anchor="middle" class="tk">1.0</text>
<text x="41.09" y="559.65" textLength="88.72" lengthAdjust="spacingAndGlyphs" class="lb">postoperative BCVA (LogMAR)</text>
<text transform="translate(7.06,584.07) rotate(-90)" x="0" y="0" textLength="154.37" lengthAdjust="spacingAndGlyphs" class="yl">The interocular difference in total foveal thickness (%)</text>
<text x="18.50" y="439.80" class="lt" style="font-size:11.0px">K</text>
<text x="137.90" y="490.70" class="rp">r = 0.59</text>
<text x="137.90" y="500.90" class="rp">P = 0.0003</text>
<path d="M34.99 526.56L121.88 499.95" stroke="#111" stroke-width="0.75"/>
<path d="M33.34 494.71a1.65 1.65 0 1 0 3.3 0a1.65 1.65 0 1 0 -3.3 0M33.34 504.65a1.65 1.65 0 1 0 3.3 0a1.65 1.65 0 1 0 -3.3 0M33.34 539.15a1.65 1.65 0 1 0 3.3 0a1.65 1.65 0 1 0 -3.3 0M38.26 517.44a1.65 1.65 0 1 0 3.3 0a1.65 1.65 0 1 0 -3.3 0M43.54 524.79a1.65 1.65 0 1 0 3.3 0a1.65 1.65 0 1 0 -3.3 0M43.54 526.90a1.65 1.65 0 1 0 3.3 0a1.65 1.65 0 1 0 -3.3 0M49.28 501.17a1.65 1.65 0 1 0 3.3 0a1.65 1.65 0 1 0 -3.3 0M49.28 524.79a1.65 1.65 0 1 0 3.3 0a1.65 1.65 0 1 0 -3.3 0M49.64 526.56a1.65 1.65 0 1 0 3.3 0a1.65 1.65 0 1 0 -3.3 0M50.55 529.15a1.65 1.65 0 1 0 3.3 0a1.65 1.65 0 1 0 -3.3 0M51.37 525.67a1.65 1.65 0 1 0 3.3 0a1.65 1.65 0 1 0 -3.3 0M51.74 529.15a1.65 1.65 0 1 0 3.3 0a1.65 1.65 0 1 0 -3.3 0M56.66 523.57a1.65 1.65 0 1 0 3.3 0a1.65 1.65 0 1 0 -3.3 0M59.21 524.79a1.65 1.65 0 1 0 3.3 0a1.65 1.65 0 1 0 -3.3 0M59.21 529.55a1.65 1.65 0 1 0 3.3 0a1.65 1.65 0 1 0 -3.3 0M65.40 525.67a1.65 1.65 0 1 0 3.3 0a1.65 1.65 0 1 0 -3.3 0M76.79 514.85a1.65 1.65 0 1 0 3.3 0a1.65 1.65 0 1 0 -3.3 0M76.79 516.41a1.65 1.65 0 1 0 3.3 0a1.65 1.65 0 1 0 -3.3 0M76.79 518.13a1.65 1.65 0 1 0 3.3 0a1.65 1.65 0 1 0 -3.3 0M76.79 519.21a1.65 1.65 0 1 0 3.3 0a1.65 1.65 0 1 0 -3.3 0M76.79 535.67a1.65 1.65 0 1 0 3.3 0a1.65 1.65 0 1 0 -3.3 0M91.36 512.20a1.65 1.65 0 1 0 3.3 0a1.65 1.65 0 1 0 -3.3 0M92.00 500.64a1.65 1.65 0 1 0 3.3 0a1.65 1.65 0 1 0 -3.3 0M92.91 500.64a1.65 1.65 0 1 0 3.3 0a1.65 1.65 0 1 0 -3.3 0M92.91 506.07a1.65 1.65 0 1 0 3.3 0a1.65 1.65 0 1 0 -3.3 0M99.28 494.71a1.65 1.65 0 1 0 3.3 0a1.65 1.65 0 1 0 -3.3 0M102.02 499.61a1.65 1.65 0 1 0 3.3 0a1.65 1.65 0 1 0 -3.3 0M101.11 506.81a1.65 1.65 0 1 0 3.3 0a1.65 1.65 0 1 0 -3.3 0M101.11 517.44a1.65 1.65 0 1 0 3.3 0a1.65 1.65 0 1 0 -3.3 0M120.23 491.91a1.65 1.65 0 1 0 3.3 0a1.65 1.65 0 1 0 -3.3 0M120.23 497.70a1.65 1.65 0 1 0 3.3 0a1.65 1.65 0 1 0 -3.3 0" fill="#000"/>
<path d="M207.50 474.65V547.85H317.40" fill="none" stroke="#222" stroke-width="0.9"/>
<path d="M205.90 547.85H207.50M205.90 523.45H207.50M205.90 499.05H207.50M205.90 474.65H207.50M207.50 547.85V549.75M253.29 547.85V549.75M299.08 547.85V549.75" fill="none" stroke="#222" stroke-width="0.9"/>
<text x="204.10" y="549.41" text-anchor="end" class="tk">0</text>
<text x="204.10" y="525.01" text-anchor="end" class="tk">50</text>
<text x="204.10" y="500.61" text-anchor="end" class="tk">100</text>
<text x="204.10" y="476.21" text-anchor="end" class="tk">150</text>
<text x="207.50" y="555.51" text-anchor="middle" class="tk">0.0</text>
<text x="253.29" y="555.51" text-anchor="middle" class="tk">0.5</text>
<text x="299.08" y="555.51" text-anchor="middle" class="tk">1.0</text>
<text x="218.09" y="563.45" textLength="88.72" lengthAdjust="spacingAndGlyphs" class="lb">postoperative BCVA (LogMAR)</text>
<text transform="translate(183.26,595.22) rotate(-90)" x="0" y="0" textLength="168.02" lengthAdjust="spacingAndGlyphs" class="yl">The interocular difference in total parafoveal thickness (%)</text>
<text x="195.20" y="439.80" class="lt" style="font-size:11.0px">L</text>
<text x="316.20" y="495.10" class="rp">r = 0.78</text>
<text x="316.20" y="507.60" class="rp">P&lt; 0.0001</text>
<path d="M217.30 547.85L299.08 504.61" stroke="#111" stroke-width="0.75"/>
<path d="M210.61 538.58a1.65 1.65 0 1 0 3.3 0a1.65 1.65 0 1 0 -3.3 0M210.61 547.51a1.65 1.65 0 1 0 3.3 0a1.65 1.65 0 1 0 -3.3 0M215.01 545.56a1.65 1.65 0 1 0 3.3 0a1.65 1.65 0 1 0 -3.3 0M220.41 545.56a1.65 1.65 0 1 0 3.3 0a1.65 1.65 0 1 0 -3.3 0M220.41 547.36a1.65 1.65 0 1 0 3.3 0a1.65 1.65 0 1 0 -3.3 0M226.36 543.12a1.65 1.65 0 1 0 3.3 0a1.65 1.65 0 1 0 -3.3 0M226.36 547.51a1.65 1.65 0 1 0 3.3 0a1.65 1.65 0 1 0 -3.3 0M227.74 547.51a1.65 1.65 0 1 0 3.3 0a1.65 1.65 0 1 0 -3.3 0M228.65 527.35a1.65 1.65 0 1 0 3.3 0a1.65 1.65 0 1 0 -3.3 0M229.48 547.51a1.65 1.65 0 1 0 3.3 0a1.65 1.65 0 1 0 -3.3 0M233.51 537.85a1.65 1.65 0 1 0 3.3 0a1.65 1.65 0 1 0 -3.3 0M236.07 538.58a1.65 1.65 0 1 0 3.3 0a1.65 1.65 0 1 0 -3.3 0M236.53 547.85a1.65 1.65 0 1 0 3.3 0a1.65 1.65 0 1 0 -3.3 0M242.48 542.58a1.65 1.65 0 1 0 3.3 0a1.65 1.65 0 1 0 -3.3 0M254.39 513.35a1.65 1.65 0 1 0 3.3 0a1.65 1.65 0 1 0 -3.3 0M254.39 519.30a1.65 1.65 0 1 0 3.3 0a1.65 1.65 0 1 0 -3.3 0M254.39 527.35a1.65 1.65 0 1 0 3.3 0a1.65 1.65 0 1 0 -3.3 0M254.39 547.85a1.65 1.65 0 1 0 3.3 0a1.65 1.65 0 1 0 -3.3 0M268.58 536.48a1.65 1.65 0 1 0 3.3 0a1.65 1.65 0 1 0 -3.3 0M269.23 507.59a1.65 1.65 0 1 0 3.3 0a1.65 1.65 0 1 0 -3.3 0M270.32 507.59a1.65 1.65 0 1 0 3.3 0a1.65 1.65 0 1 0 -3.3 0M270.32 503.54a1.65 1.65 0 1 0 3.3 0a1.65 1.65 0 1 0 -3.3 0M270.32 517.55a1.65 1.65 0 1 0 3.3 0a1.65 1.65 0 1 0 -3.3 0M270.32 547.85a1.65 1.65 0 1 0 3.3 0a1.65 1.65 0 1 0 -3.3 0M276.74 537.70a1.65 1.65 0 1 0 3.3 0a1.65 1.65 0 1 0 -3.3 0M278.48 502.51a1.65 1.65 0 1 0 3.3 0a1.65 1.65 0 1 0 -3.3 0M278.84 508.81a1.65 1.65 0 1 0 3.3 0a1.65 1.65 0 1 0 -3.3 0M278.48 518.42a1.65 1.65 0 1 0 3.3 0a1.65 1.65 0 1 0 -3.3 0M297.80 487.97a1.65 1.65 0 1 0 3.3 0a1.65 1.65 0 1 0 -3.3 0M297.80 501.98a1.65 1.65 0 1 0 3.3 0a1.65 1.65 0 1 0 -3.3 0" fill="#000"/>
<path d="M378.70 473.45V546.45H488.90" fill="none" stroke="#222" stroke-width="0.9"/>
<path d="M377.10 546.45H378.70M377.10 522.12H378.70M377.10 497.78H378.70M377.10 473.45H378.70M378.70 546.45V548.35M424.62 546.45V548.35M470.53 546.45V548.35" fill="none" stroke="#222" stroke-width="0.9"/>
<text x="376.00" y="548.01" text-anchor="end" class="tk">0</text>
<text x="376.00" y="523.68" text-anchor="end" class="tk">50</text>
<text x="376.00" y="499.35" text-anchor="end" class="tk">100</text>
<text x="376.00" y="475.01" text-anchor="end" class="tk">150</text>
<text x="378.70" y="554.11" text-anchor="middle" class="tk">0.0</text>
<text x="424.62" y="554.11" text-anchor="middle" class="tk">0.5</text>
<text x="470.53" y="554.11" text-anchor="middle" class="tk">1.0</text>
<text x="389.44" y="562.05" textLength="88.72" lengthAdjust="spacingAndGlyphs" class="lb">postoperative BCVA (LogMAR)</text>
<text transform="translate(358.66,587.27) rotate(-90)" x="0" y="0" textLength="156.37" lengthAdjust="spacingAndGlyphs" class="yl">The interocular difference in inner foveal thickness (%)</text>
<text x="366.40" y="439.80" class="lt" style="font-size:11.0px">M</text>
<text x="486.00" y="496.10" class="rp">r = 0.66</text>
<text x="486.00" y="509.50" class="rp">P&lt; 0.0001</text>
<path d="M383.48 529.12L470.53 495.69" stroke="#111" stroke-width="0.75"/>
<path d="M381.83 518.61a1.65 1.65 0 1 0 3.3 0a1.65 1.65 0 1 0 -3.3 0M381.83 519.83a1.65 1.65 0 1 0 3.3 0a1.65 1.65 0 1 0 -3.3 0M381.83 521.05a1.65 1.65 0 1 0 3.3 0a1.65 1.65 0 1 0 -3.3 0M386.51 527.37a1.65 1.65 0 1 0 3.3 0a1.65 1.65 0 1 0 -3.3 0M391.74 515.45a1.65 1.65 0 1 0 3.3 0a1.65 1.65 0 1 0 -3.3 0M391.74 527.37a1.65 1.65 0 1 0 3.3 0a1.65 1.65 0 1 0 -3.3 0M397.53 516.67a1.65 1.65 0 1 0 3.3 0a1.65 1.65 0 1 0 -3.3 0M397.53 528.59a1.65 1.65 0 1 0 3.3 0a1.65 1.65 0 1 0 -3.3 0M397.90 529.81a1.65 1.65 0 1 0 3.3 0a1.65 1.65 0 1 0 -3.3 0M397.90 530.88a1.65 1.65 0 1 0 3.3 0a1.65 1.65 0 1 0 -3.3 0M399.27 511.60a1.65 1.65 0 1 0 3.3 0a1.65 1.65 0 1 0 -3.3 0M400.74 515.45a1.65 1.65 0 1 0 3.3 0a1.65 1.65 0 1 0 -3.3 0M405.06 518.61a1.65 1.65 0 1 0 3.3 0a1.65 1.65 0 1 0 -3.3 0M407.54 515.79a1.65 1.65 0 1 0 3.3 0a1.65 1.65 0 1 0 -3.3 0M407.54 526.50a1.65 1.65 0 1 0 3.3 0a1.65 1.65 0 1 0 -3.3 0M413.78 525.62a1.65 1.65 0 1 0 3.3 0a1.65 1.65 0 1 0 -3.3 0M425.26 504.45a1.65 1.65 0 1 0 3.3 0a1.65 1.65 0 1 0 -3.3 0M425.26 509.71a1.65 1.65 0 1 0 3.3 0a1.65 1.65 0 1 0 -3.3 0M425.26 519.83a1.65 1.65 0 1 0 3.3 0a1.65 1.65 0 1 0 -3.3 0M425.26 528.59a1.65 1.65 0 1 0 3.3 0a1.65 1.65 0 1 0 -3.3 0M439.50 504.45a1.65 1.65 0 1 0 3.3 0a1.65 1.65 0 1 0 -3.3 0M440.42 507.08a1.65 1.65 0 1 0 3.3 0a1.65 1.65 0 1 0 -3.3 0M441.06 508.83a1.65 1.65 0 1 0 3.3 0a1.65 1.65 0 1 0 -3.3 0M441.06 511.07a1.65 1.65 0 1 0 3.3 0a1.65 1.65 0 1 0 -3.3 0M441.06 524.21a1.65 1.65 0 1 0 3.3 0a1.65 1.65 0 1 0 -3.3 0M441.06 530.88a1.65 1.65 0 1 0 3.3 0a1.65 1.65 0 1 0 -3.3 0M441.06 533.85a1.65 1.65 0 1 0 3.3 0a1.65 1.65 0 1 0 -3.3 0M447.49 484.50a1.65 1.65 0 1 0 3.3 0a1.65 1.65 0 1 0 -3.3 0M450.52 484.50a1.65 1.65 0 1 0 3.3 0a1.65 1.65 0 1 0 -3.3 0M449.60 497.59a1.65 1.65 0 1 0 3.3 0a1.65 1.65 0 1 0 -3.3 0M449.60 505.81a1.65 1.65 0 1 0 3.3 0a1.65 1.65 0 1 0 -3.3 0M468.88 479.92a1.65 1.65 0 1 0 3.3 0a1.65 1.65 0 1 0 -3.3 0M468.88 481.33a1.65 1.65 0 1 0 3.3 0a1.65 1.65 0 1 0 -3.3 0" fill="#000"/>
<path d="M547.40 473.60V546.50H657.80" fill="none" stroke="#222" stroke-width="0.9"/>
<path d="M545.80 546.50H547.40M545.80 522.20H547.40M545.80 497.90H547.40M545.80 473.60H547.40M547.40 546.50V548.40M593.40 546.50V548.40M639.40 546.50V548.40" fill="none" stroke="#222" stroke-width="0.9"/>
<text x="545.00" y="548.06" text-anchor="end" class="tk">0</text>
<text x="545.00" y="523.76" text-anchor="end" class="tk">50</text>
<text x="545.00" y="499.46" text-anchor="end" class="tk">100</text>
<text x="545.00" y="475.16" text-anchor="end" class="tk">150</text>
<text x="547.40" y="554.16" text-anchor="middle" class="tk">0.0</text>
<text x="593.40" y="554.16" text-anchor="middle" class="tk">0.5</text>
<text x="639.40" y="554.16" text-anchor="middle" class="tk">1.0</text>
<text x="558.24" y="562.10" textLength="88.72" lengthAdjust="spacingAndGlyphs" class="lb">postoperative BCVA (LogMAR)</text>
<text transform="translate(526.76,594.25) rotate(-90)" x="0" y="0" textLength="169.05" lengthAdjust="spacingAndGlyphs" class="yl">The interocular difference in inner parafoveal thickness (%)</text>
<text x="533.20" y="439.80" class="lt" style="font-size:11.0px">N</text>
<text x="653.00" y="499.10" class="rp">r = 0.77</text>
<text x="653.00" y="511.60" class="rp">P&lt; 0.0001</text>
<path d="M552.00 542.47L639.40 501.30" stroke="#111" stroke-width="0.75"/>
<path d="M550.35 529.34a1.65 1.65 0 1 0 3.3 0a1.65 1.65 0 1 0 -3.3 0M550.35 533.38a1.65 1.65 0 1 0 3.3 0a1.65 1.65 0 1 0 -3.3 0M550.35 534.59a1.65 1.65 0 1 0 3.3 0a1.65 1.65 0 1 0 -3.3 0M554.95 544.75a1.65 1.65 0 1 0 3.3 0a1.65 1.65 0 1 0 -3.3 0M560.65 532.31a1.65 1.65 0 1 0 3.3 0a1.65 1.65 0 1 0 -3.3 0M560.65 544.75a1.65 1.65 0 1 0 3.3 0a1.65 1.65 0 1 0 -3.3 0M566.82 536.88a1.65 1.65 0 1 0 3.3 0a1.65 1.65 0 1 0 -3.3 0M566.82 538.09a1.65 1.65 0 1 0 3.3 0a1.65 1.65 0 1 0 -3.3 0M566.82 540.72a1.65 1.65 0 1 0 3.3 0a1.65 1.65 0 1 0 -3.3 0M566.82 543.34a1.65 1.65 0 1 0 3.3 0a1.65 1.65 0 1 0 -3.3 0M568.20 527.06a1.65 1.65 0 1 0 3.3 0a1.65 1.65 0 1 0 -3.3 0M568.20 538.09a1.65 1.65 0 1 0 3.3 0a1.65 1.65 0 1 0 -3.3 0M569.39 529.34a1.65 1.65 0 1 0 3.3 0a1.65 1.65 0 1 0 -3.3 0M573.81 522.35a1.65 1.65 0 1 0 3.3 0a1.65 1.65 0 1 0 -3.3 0M576.57 528.47a1.65 1.65 0 1 0 3.3 0a1.65 1.65 0 1 0 -3.3 0M576.57 545.97a1.65 1.65 0 1 0 3.3 0a1.65 1.65 0 1 0 -3.3 0M582.73 522.35a1.65 1.65 0 1 0 3.3 0a1.65 1.65 0 1 0 -3.3 0M594.14 518.80a1.65 1.65 0 1 0 3.3 0a1.65 1.65 0 1 0 -3.3 0M594.14 527.21a1.65 1.65 0 1 0 3.3 0a1.65 1.65 0 1 0 -3.3 0M594.14 534.59a1.65 1.65 0 1 0 3.3 0a1.65 1.65 0 1 0 -3.3 0M594.14 539.84a1.65 1.65 0 1 0 3.3 0a1.65 1.65 0 1 0 -3.3 0M608.49 503.05a1.65 1.65 0 1 0 3.3 0a1.65 1.65 0 1 0 -3.3 0M609.87 504.27a1.65 1.65 0 1 0 3.3 0a1.65 1.65 0 1 0 -3.3 0M609.87 509.52a1.65 1.65 0 1 0 3.3 0a1.65 1.65 0 1 0 -3.3 0M609.87 512.67a1.65 1.65 0 1 0 3.3 0a1.65 1.65 0 1 0 -3.3 0M609.87 513.55a1.65 1.65 0 1 0 3.3 0a1.65 1.65 0 1 0 -3.3 0M616.68 534.59a1.65 1.65 0 1 0 3.3 0a1.65 1.65 0 1 0 -3.3 0M618.61 532.31a1.65 1.65 0 1 0 3.3 0a1.65 1.65 0 1 0 -3.3 0M618.43 505.68a1.65 1.65 0 1 0 3.3 0a1.65 1.65 0 1 0 -3.3 0M618.98 507.43a1.65 1.65 0 1 0 3.3 0a1.65 1.65 0 1 0 -3.3 0M637.75 483.81a1.65 1.65 0 1 0 3.3 0a1.65 1.65 0 1 0 -3.3 0M637.75 498.14a1.65 1.65 0 1 0 3.3 0a1.65 1.65 0 1 0 -3.3 0" fill="#000"/>
</svg>
</body></html>
